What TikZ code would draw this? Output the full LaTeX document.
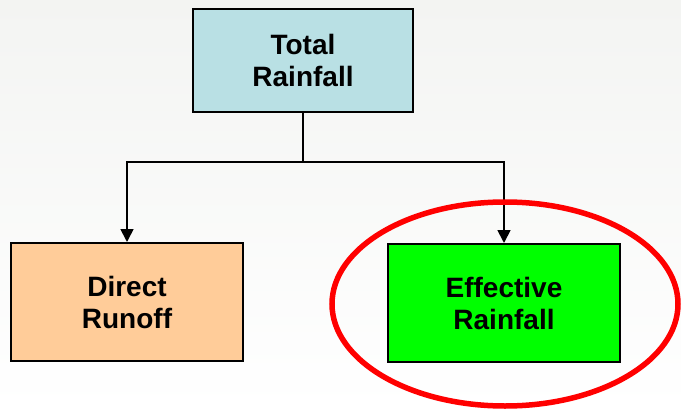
\documentclass[tikz,border=0pt]{standalone}
\usepackage{fontspec}
\setmainfont{Liberation Sans}
\usetikzlibrary{arrows.meta,shapes.geometric}
\definecolor{boxblue}{RGB}{185,224,228}
\definecolor{boxorange}{RGB}{255,204,153}
\definecolor{boxgreen}{RGB}{0,255,0}
\definecolor{bgtop}{RGB}{243,244,242}
\tikzset{
  box/.style={draw=black, line width=2pt, minimum width=#1, align=center,
    font=\fontsize{28}{32}\selectfont\bfseries, inner sep=0pt},
  conn/.style={line width=1.8pt, draw=black},
  arr/.style={conn, -{Triangle[length=13pt,width=13pt]}}
}
\begin{document}
\begin{tikzpicture}[x=1pt,y=-1pt]
\shade[top color=bgtop, bottom color=white] (0,0) rectangle (681,410);
\useasboundingbox (0,0) rectangle (681,410);
\node[box=220pt, minimum height=103pt, fill=boxblue] (total) at (303,60.5) {Total\\Rainfall};
\node[box=232pt, minimum height=118pt, fill=boxorange] (direct) at (127,302) {Direct\\Runoff};
\node[box=232pt, minimum height=118pt, fill=boxgreen] (eff) at (504,303) {Effective\\Rainfall};
\coordinate (split) at (303,162);
\draw[conn] (total.south) -- (split);
\draw[arr] (split) -| (direct.north);
\draw[arr] (split) -| (eff.north);
\node[draw=red, line width=5.5pt, ellipse, minimum width=346pt, minimum height=204pt, inner sep=0pt] (ring) at (505,304) {};
\end{tikzpicture}
\end{document}
